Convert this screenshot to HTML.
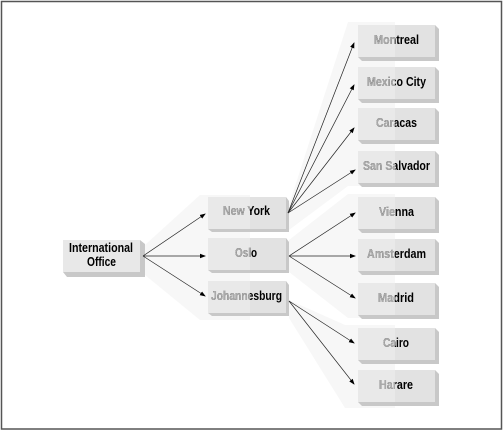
<!DOCTYPE html>
<html><head><meta charset="utf-8"><style>
html,body{margin:0;padding:0;background:#fff}
svg{display:block}
text{font-family:"Liberation Sans",sans-serif;font-weight:bold;font-size:13px}
</style></head><body>
<svg width="503" height="431" viewBox="0 0 503 431" xmlns="http://www.w3.org/2000/svg">
<defs>
<clipPath id="cm"><rect x="0" y="0" width="250" height="431"/></clipPath>
<clipPath id="cr"><rect x="0" y="0" width="395" height="431"/></clipPath>
<marker id="ah" markerWidth="6" markerHeight="6" refX="5" refY="3" orient="auto" markerUnits="userSpaceOnUse"><path d="M0,0.8 L6,3 L0,5.2 Z" fill="#000"/></marker>
</defs>
<rect x="1.5" y="1.5" width="500" height="427.5" fill="#fff" stroke="#555" stroke-width="1.5"/>
<g fill="#f7f7f7">
<polygon points="145,245 200,195 250,195 250,320 200,320 145,275"/>
<polygon points="289,205 348,22 395,22 395,186 348,186 289,230"/>
<polygon points="289,240 348,194 395,194 395,318 348,318 289,272"/>
<polygon points="289,300 345,325 395,325 395,408 345,408 289,318"/>
</g>
<g>
<polygon points="140,240 145,244 145,277 67,277 63,272 140,272" fill="#c8c8c8"/>
<rect x="63" y="240" width="77" height="32" fill="#e8e8e8"/>
</g>
<g>
<polygon points="286,197 289,201 289,232 212,232 208,229 286,229" fill="#c8c8c8"/>
<rect x="208" y="197" width="78" height="32" fill="#e9e9e9"/><rect x="250" y="197" width="36" height="32" fill="#e2e2e2"/>
<polygon points="286,238 289,242 289,273 212,273 208,270 286,270" fill="#c8c8c8"/>
<rect x="208" y="238" width="78" height="32" fill="#e9e9e9"/><rect x="250" y="238" width="36" height="32" fill="#e2e2e2"/>
<polygon points="286,281 289,285 289,316 212,316 208,313 286,313" fill="#c8c8c8"/>
<rect x="208" y="281" width="78" height="32" fill="#e9e9e9"/><rect x="250" y="281" width="36" height="32" fill="#e2e2e2"/>
</g>
<g>
<g transform="translate(0,25)"><polygon points="435,0 439,4 439,36 362,36 358,32 435,32" fill="#c8c8c8"/><rect x="358" y="0" width="77" height="32" fill="#e9e9e9"/><rect x="395" y="0" width="40" height="32" fill="#e2e2e2"/></g>
<g transform="translate(0,67)"><polygon points="435,0 439,4 439,36 362,36 358,32 435,32" fill="#c8c8c8"/><rect x="358" y="0" width="77" height="32" fill="#e9e9e9"/><rect x="395" y="0" width="40" height="32" fill="#e2e2e2"/></g>
<g transform="translate(0,108)"><polygon points="435,0 439,4 439,36 362,36 358,32 435,32" fill="#c8c8c8"/><rect x="358" y="0" width="77" height="32" fill="#e9e9e9"/><rect x="395" y="0" width="40" height="32" fill="#e2e2e2"/></g>
<g transform="translate(0,151)"><polygon points="435,0 439,4 439,36 362,36 358,32 435,32" fill="#c8c8c8"/><rect x="358" y="0" width="77" height="32" fill="#e9e9e9"/><rect x="395" y="0" width="40" height="32" fill="#e2e2e2"/></g>
<g transform="translate(0,197)"><polygon points="435,0 439,4 439,36 362,36 358,32 435,32" fill="#c8c8c8"/><rect x="358" y="0" width="77" height="32" fill="#e9e9e9"/><rect x="395" y="0" width="40" height="32" fill="#e2e2e2"/></g>
<g transform="translate(0,239)"><polygon points="435,0 439,4 439,36 362,36 358,32 435,32" fill="#c8c8c8"/><rect x="358" y="0" width="77" height="32" fill="#e9e9e9"/><rect x="395" y="0" width="40" height="32" fill="#e2e2e2"/></g>
<g transform="translate(0,283)"><polygon points="435,0 439,4 439,36 362,36 358,32 435,32" fill="#c8c8c8"/><rect x="358" y="0" width="77" height="32" fill="#e9e9e9"/><rect x="395" y="0" width="40" height="32" fill="#e2e2e2"/></g>
<g transform="translate(0,328)"><polygon points="435,0 439,4 439,36 362,36 358,32 435,32" fill="#c8c8c8"/><rect x="358" y="0" width="77" height="32" fill="#e9e9e9"/><rect x="395" y="0" width="40" height="32" fill="#e2e2e2"/></g>
<g transform="translate(0,370)"><polygon points="435,0 439,4 439,36 362,36 358,32 435,32" fill="#c8c8c8"/><rect x="358" y="0" width="77" height="32" fill="#e9e9e9"/><rect x="395" y="0" width="40" height="32" fill="#e2e2e2"/></g>
</g>
<g stroke="#222" stroke-width="0.7" fill="none" marker-end="url(#ah)">
<line x1="143" y1="256" x2="205" y2="214"/>
<line x1="143" y1="256" x2="205" y2="256"/>
<line x1="143" y1="256" x2="205" y2="296"/>
<line x1="288" y1="213" x2="354" y2="43"/>
<line x1="288" y1="213" x2="354" y2="85"/>
<line x1="288" y1="213" x2="354" y2="128"/>
<line x1="288" y1="213" x2="355" y2="170"/>
<line x1="289" y1="256" x2="355" y2="213"/>
<line x1="289" y1="256" x2="355" y2="256"/>
<line x1="289" y1="256" x2="355" y2="298"/>
<line x1="289" y1="301" x2="354" y2="343"/>
<line x1="289" y1="301" x2="354" y2="384"/>
</g>
<g fill="#000" lengthAdjust="spacingAndGlyphs">
<text x="69" y="252" textLength="64" lengthAdjust="spacingAndGlyphs">International</text>
<text x="87" y="266" textLength="29" lengthAdjust="spacingAndGlyphs">Office</text>
</g>
<g fill="#000">
<text x="223" y="215" textLength="47" lengthAdjust="spacingAndGlyphs">New York</text>
<text x="235" y="257" textLength="22" lengthAdjust="spacingAndGlyphs">Oslo</text>
<text x="211" y="300" textLength="71" lengthAdjust="spacingAndGlyphs">Johannesburg</text>
</g>
<g fill="#aaa" clip-path="url(#cm)">
<text x="223" y="215" textLength="47" lengthAdjust="spacingAndGlyphs">New York</text>
<text x="235" y="257" textLength="22" lengthAdjust="spacingAndGlyphs">Oslo</text>
<text x="211" y="300" textLength="71" lengthAdjust="spacingAndGlyphs">Johannesburg</text>
</g>
<g fill="#000">
<text x="374" y="44" textLength="45" lengthAdjust="spacingAndGlyphs">Montreal</text>
<text x="367" y="86" textLength="59" lengthAdjust="spacingAndGlyphs">Mexico City</text>
<text x="376" y="127" textLength="41" lengthAdjust="spacingAndGlyphs">Caracas</text>
<text x="363" y="170" textLength="67" lengthAdjust="spacingAndGlyphs">San Salvador</text>
<text x="379" y="216" textLength="35" lengthAdjust="spacingAndGlyphs">Vienna</text>
<text x="367" y="258" textLength="59" lengthAdjust="spacingAndGlyphs">Amsterdam</text>
<text x="378" y="302" textLength="36" lengthAdjust="spacingAndGlyphs">Madrid</text>
<text x="383" y="347" textLength="26" lengthAdjust="spacingAndGlyphs">Cairo</text>
<text x="379" y="389" textLength="34" lengthAdjust="spacingAndGlyphs">Harare</text>
</g>
<g fill="#aaa" clip-path="url(#cr)">
<text x="374" y="44" textLength="45" lengthAdjust="spacingAndGlyphs">Montreal</text>
<text x="367" y="86" textLength="59" lengthAdjust="spacingAndGlyphs">Mexico City</text>
<text x="376" y="127" textLength="41" lengthAdjust="spacingAndGlyphs">Caracas</text>
<text x="363" y="170" textLength="67" lengthAdjust="spacingAndGlyphs">San Salvador</text>
<text x="379" y="216" textLength="35" lengthAdjust="spacingAndGlyphs">Vienna</text>
<text x="367" y="258" textLength="59" lengthAdjust="spacingAndGlyphs">Amsterdam</text>
<text x="378" y="302" textLength="36" lengthAdjust="spacingAndGlyphs">Madrid</text>
<text x="383" y="347" textLength="26" lengthAdjust="spacingAndGlyphs">Cairo</text>
<text x="379" y="389" textLength="34" lengthAdjust="spacingAndGlyphs">Harare</text>
</g>
</svg>
</body></html>
